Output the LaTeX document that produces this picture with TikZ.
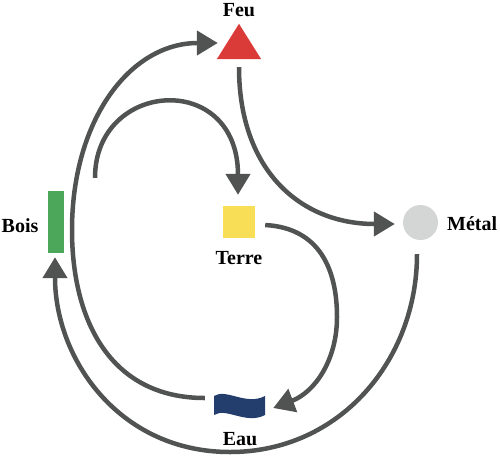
\documentclass[tikz,border=0pt]{standalone}
\usepackage{fontspec}
\setmainfont{Liberation Serif}
\usetikzlibrary{arrows.meta,calc}
\definecolor{arrowcol}{HTML}{515352}
\definecolor{feucol}{HTML}{DA3A38}
\definecolor{boiscol}{HTML}{4DA75A}
\definecolor{terrecol}{HTML}{F8DD57}
\definecolor{metalcol}{HTML}{D4D5D5}
\definecolor{eaucol}{HTML}{233D6D}
\tikzset{
  conn/.style={draw=arrowcol, line width=4.5pt, -{Triangle[length=21pt,width=24pt]}},
  lbl/.style={font=\fontsize{20}{24}\selectfont\bfseries, inner sep=0pt, anchor=base, text=black},
  elem/.style={inner sep=0pt, draw=none}
}
\begin{document}
\begin{tikzpicture}[x=1pt,y=-1pt]
\useasboundingbox (0,0) rectangle (500,456);
% elements
\node[elem, minimum width=44pt, minimum height=35pt] (feu) at (239,41.5) {};
\fill[feucol] (feu.south west) -- (feu.south east) -- (feu.north) -- cycle;
\node[elem, fill=boiscol, minimum width=16pt, minimum height=62pt] (bois) at (56,222) {};
\node[elem, fill=terrecol, minimum size=32pt] (terre) at (239,222) {};
\node[elem, circle, fill=metalcol, minimum size=35pt] (metal) at (420.5,222.5) {};
\node[elem, minimum width=51pt, minimum height=22pt] (eau) at (239.5,405.5) {};
\fill[eaucol] ($(eau.center)+(-25.5,-9.5)$) .. controls ($(eau.center)+(-13.5,-17.5)$) and ($(eau.center)+(6.5,0.5)$) .. ($(eau.center)+(25.5,-9.5)$)
  -- ($(eau.center)+(25.5,9.5)$) .. controls ($(eau.center)+(6.5,19.5)$) and ($(eau.center)+(-13.5,1.5)$) .. ($(eau.center)+(-25.5,9.5)$) -- cycle;
% labels
\node[lbl] (feulbl) at (239,16) {Feu};
\node[lbl] (boislbl) at (20,232) {Bois};
\node[lbl] (terrelbl) at (239,264) {Terre};
\node[lbl, anchor=base west] (metallbl) at (447,230) {Métal};
\node[lbl] (eaulbl) at (240,445) {Eau};
% connectors
\draw[conn] ([yshift=-8pt]feu.south) .. controls (239,170) and (300,224) .. ([xshift=-8pt,yshift=-1.5pt]metal.west);
\draw[conn] ([xshift=-3.5pt,yshift=-14pt]metal.south) .. controls (417,360) and (340,452) .. (230,452)
  .. controls (120,452) and (55,360) .. ([xshift=-1pt,yshift=-4pt]bois.south);
\draw[conn] ([xshift=-9pt,yshift=7.5pt]eau.west) .. controls (110,398) and (72,320) .. (72,230)
  .. controls (72,120) and (130,43) .. ([xshift=1pt,yshift=-1.5pt]feu.west);
\draw[conn] ([xshift=39pt,yshift=13pt]bois.north) .. controls (95,80) and (238,70) .. ([xshift=-1pt,yshift=11pt]terre.north);
\draw[conn] ([xshift=10pt,yshift=-3pt]terre.east) .. controls (320,228) and (337,270) .. (337,317)
  .. controls (337,360) and (315,392) .. ([xshift=8pt,yshift=-2.5pt]eau.east);
\end{tikzpicture}
\end{document}
